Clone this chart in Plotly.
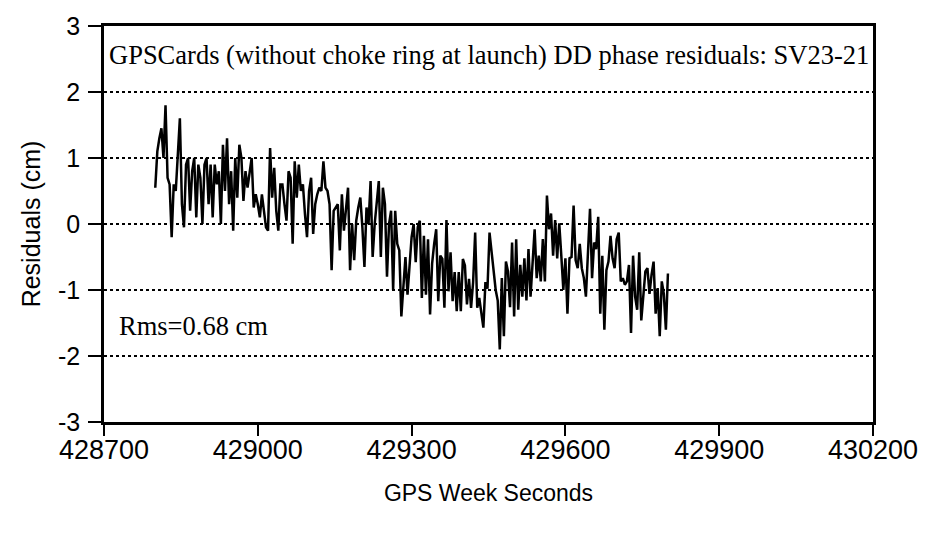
import plotly.graph_objects as go

# GPS week seconds: first epoch and sampling interval (s)
t_start = 428800
t_step = 4

residuals_cm = [
    0.55, 1.1, 1.3, 1.45, 1.0, 1.8, 0.7, 0.6, -0.2, 0.6,
    0.5, 1.0, 1.6, 0.3, -0.05, 0.9, 1.0, 0.2, 0.8, 1.0,
    0.1, 0.9, 0.7, 0.0, 0.9, 1.0, 0.3, 0.9, 0.1, 0.9,
    0.6, 0.8, 0.0, 1.2, 0.5, 1.3, 0.3, 0.8, -0.1, 1.0,
    0.4, 1.2, 1.0, 0.35, 0.8, 0.55, 0.8, 1.0, 0.25, 0.45,
    0.3, 0.1, 0.45, 0.2, -0.05, -0.1, 1.15, 0.4, 0.85, 0.2,
    -0.1, 0.6, 0.6, 0.3, 0.05, 0.8, 0.7, -0.3, 0.95, 0.4,
    0.9, 0.5, 0.6, 0.15, -0.2, 0.5, 0.7, -0.15, 0.3, 0.45,
    0.55, 0.5, 0.95, 0.55, 0.5, 0.3, -0.7, 0.2, 0.25, 0.3,
    -0.4, 0.45, -0.1, 0.2, 0.55, -0.7, 0.0, -0.55, 0.05, 0.25,
    0.4, -0.05, -0.65, 0.25, 0.0, 0.65, -0.5, 0.0, 0.3, 0.65,
    -0.5, 0.55, 0.3, -0.8, 0.0, 0.2, -1.0, 0.2, -0.3, -0.4,
    -1.4, -0.9, -0.5, -1.07, -0.63, -0.2, 0.0, -0.58, -0.05, 0.05,
    -1.12, -0.18, -1.07, -0.23, -1.37, -0.6, -0.3, -0.08, -1.17, -0.48,
    -0.53, -1.27, 0.06, -1.02, -0.43, -1.17, -0.73, -1.32, -0.73, -1.32,
    -0.53, -0.63, -1.22, -0.83, -1.27, -0.88, -0.13, -1.27, -1.12, -1.37,
    -1.57, -0.88, -0.98, -0.13, -0.4, -0.72, -1.0, -1.16, -1.9, -0.82,
    -1.7, -0.57, -0.72, -1.26, -0.28, -1.4, -0.23, -1.3, -0.62, -1.1,
    -0.52, -1.16, -0.38, -1.1, -0.57, -0.08, -0.82, -0.48, -0.87, -0.23,
    -0.87, 0.43, -0.08, 0.16, -0.48, 0.06, -0.52, 0.01, -0.48, -1.0,
    -0.52, -1.36, -0.52, -0.5, 0.28, -0.55, -0.67, -0.3, -0.67, -0.82,
    -1.1, -0.38, 0.23, -0.82, -0.28, -0.38, 0.11, -1.36, -0.48, -1.6,
    -0.7, -0.57, -0.18, -0.52, -0.67, -0.23, -0.13, -0.87, -0.82, -0.92,
    -0.87, -0.62, -1.65, -0.48, -1.1, -1.3, -0.43, -1.46, -1.1, -0.72,
    -0.67, -1.06, -0.77, -0.57, -1.36, -0.97, -1.7, -0.87, -1.06, -1.6,
    -0.75,
]
gps_seconds = [t_start + t_step * i for i in range(len(residuals_cm))]

x_ticks = [428700, 429000, 429300, 429600, 429900, 430200]
y_ticks = [-3, -2, -1, 0, 1, 2, 3]

title_text = "GPSCards (without choke ring at launch) DD phase residuals: SV23-21"
rms_text = "Rms=0.68 cm"

sans = "Liberation Sans, Arial, sans-serif"
serif = "Liberation Serif, Times New Roman, serif"

fig = go.Figure()
fig.add_trace(go.Scatter(
    x=gps_seconds, y=residuals_cm, mode="lines",
    line=dict(color="black", width=2.5),
    showlegend=False, hoverinfo="skip",
))

fig.add_annotation(x=0.5, y=2.56, xref="x domain", yref="y", text=title_text,
                   showarrow=False, font=dict(family=serif, size=26.5, color="black"),
                   xanchor="center", yanchor="middle")
fig.add_annotation(x=428726, y=-1.54, xref="x", yref="y", text=rms_text,
                   showarrow=False, font=dict(family=serif, size=26.5, color="black"),
                   xanchor="left", yanchor="middle")

fig.update_layout(
    width=930, height=535,
    margin=dict(l=104, r=52, t=22, b=113),
    paper_bgcolor="white", plot_bgcolor="white",
    font=dict(family=sans, size=23, color="black"),
)
fig.update_xaxes(
    range=[428700, 430200], tickvals=x_ticks, ticktext=[str(v) for v in x_ticks],
    tickfont=dict(size=27),
    showgrid=False, zeroline=False,
    showline=True, mirror=True, linecolor="black", linewidth=2.5,
    ticks="outside", ticklen=11, tickwidth=2, tickcolor="black",
    ticklabelstandoff=-9,
    title=dict(text="GPS Week Seconds", standoff=21, font=dict(size=23)),
)
fig.update_yaxes(
    range=[-3, 3], tickvals=y_ticks, ticktext=[str(v) for v in y_ticks],
    tickfont=dict(size=25),
    showgrid=True, gridcolor="black", gridwidth=1.5, griddash="dot",
    zeroline=False,
    showline=True, mirror=True, linecolor="black", linewidth=2.5,
    ticks="outside", ticklen=13, tickwidth=2, tickcolor="black",
    ticklabelstandoff=3,
    title=dict(text="Residuals (cm)", standoff=11, font=dict(size=25)),
)

fig.write_html("out.html")
